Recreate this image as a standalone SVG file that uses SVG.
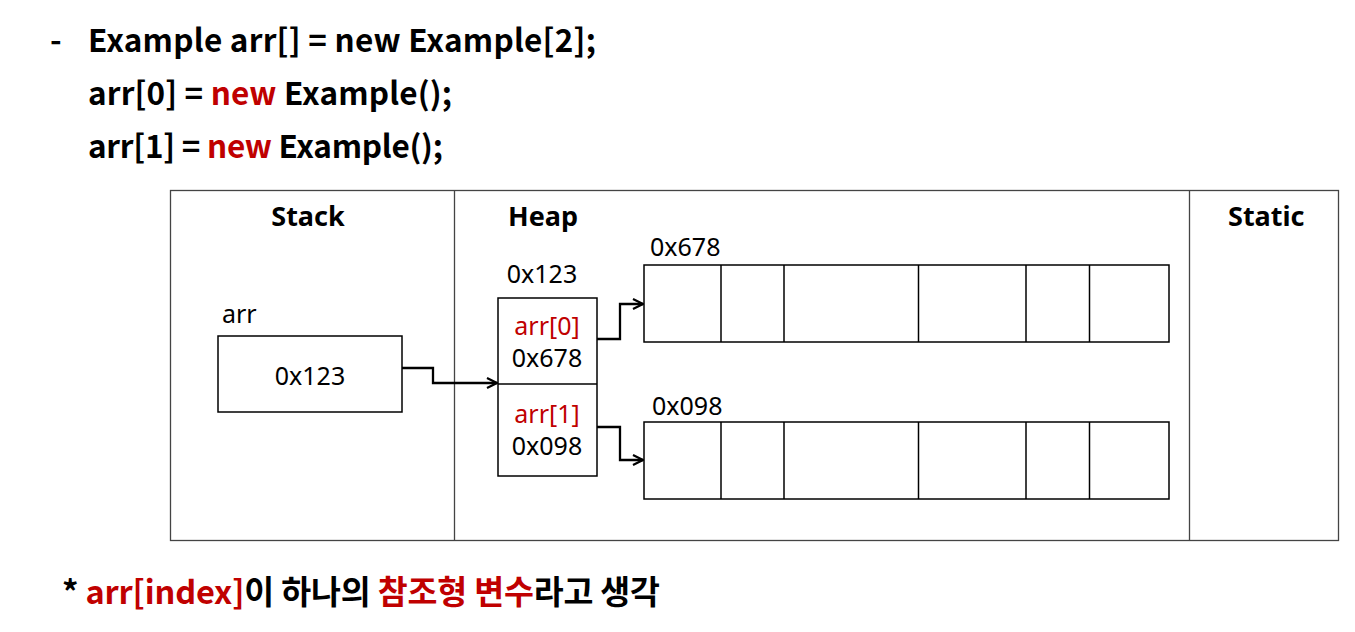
<svg xmlns="http://www.w3.org/2000/svg" width="1355" height="632" viewBox="0 0 1355 632">
<style>
.code{font-family:"Noto Sans CJK KR","Noto Sans",sans-serif;font-weight:700;font-size:31.5px;fill:#000}
.hd{font-family:"Noto Sans","Noto Sans CJK KR",sans-serif;font-weight:700;font-size:27px;fill:#000}
.lb{font-family:"Noto Sans","Noto Sans CJK KR",sans-serif;font-size:25px;fill:#000}
.red{fill:#C00000}
text.red{fill:#C00000}
.box{fill:#fff;stroke:#000;stroke-width:1.5}
.frame{fill:none;stroke:#444;stroke-width:1.3}
.conn{fill:none;stroke:#000;stroke-width:2.3}
</style>
<defs>
<marker id="arr" viewBox="0 0 12 12" refX="11" refY="6" markerWidth="12" markerHeight="12" markerUnits="userSpaceOnUse" orient="auto">
<path d="M1,1 L11,6 L1,11" fill="none" stroke="#000" stroke-width="2.2"/>
</marker>
</defs>
<rect width="1355" height="632" fill="#fff"/>
<g id="code">
<text class="code" x="50" y="52">-</text>
<text class="code" x="88" y="52" textLength="508">Example arr[] = new Example[2];</text>
<text class="code" x="88" y="105" textLength="364">arr[0] = <tspan class="red">new</tspan> Example();</text>
<text class="code" x="88" y="158" textLength="355">arr[1] = <tspan class="red">new</tspan> Example();</text>
</g>
<g id="memory-frame">
<rect class="frame" x="170.5" y="190.5" width="1168" height="350"/>
<line class="frame" x1="454.5" y1="190.5" x2="454.5" y2="540.5"/>
<line class="frame" x1="1189.5" y1="190.5" x2="1189.5" y2="540.5"/>
<text class="hd" x="308" y="226" text-anchor="middle">Stack</text>
<text class="hd" x="508" y="226">Heap</text>
<text class="hd" x="1228" y="226">Static</text>
</g>
<g id="stack-arr">
<text class="lb" x="222" y="323">arr</text>
<rect class="box" x="218" y="336" width="184" height="76"/>
<text class="lb" x="310" y="385" text-anchor="middle">0x123</text>
</g>
<g id="heap-array">
<text class="lb" x="542" y="283" text-anchor="middle">0x123</text>
<rect class="box" x="498" y="298" width="99" height="178"/>
<line class="box" x1="498" y1="384" x2="597" y2="384"/>
<text class="lb red" x="547" y="335" text-anchor="middle">arr[0]</text>
<text class="lb" x="547" y="367" text-anchor="middle">0x678</text>
<text class="lb red" x="547" y="423" text-anchor="middle">arr[1]</text>
<text class="lb" x="547" y="455" text-anchor="middle">0x098</text>
</g>
<g id="obj-0x678">
<text class="lb" x="650" y="256">0x678</text>
<rect class="box" x="644" y="265" width="525" height="77"/>
<line class="box" x1="721" y1="265" x2="721" y2="342"/>
<line class="box" x1="784" y1="265" x2="784" y2="342"/>
<line class="box" x1="918.5" y1="265" x2="918.5" y2="342"/>
<line class="box" x1="1026" y1="265" x2="1026" y2="342"/>
<line class="box" x1="1089.5" y1="265" x2="1089.5" y2="342"/>
</g>
<g id="obj-0x098">
<text class="lb" x="652" y="415">0x098</text>
<rect class="box" x="644" y="422" width="525" height="77"/>
<line class="box" x1="721" y1="422" x2="721" y2="499"/>
<line class="box" x1="784" y1="422" x2="784" y2="499"/>
<line class="box" x1="918.5" y1="422" x2="918.5" y2="499"/>
<line class="box" x1="1026" y1="422" x2="1026" y2="499"/>
<line class="box" x1="1089.5" y1="422" x2="1089.5" y2="499"/>
</g>
<g id="connectors">
<path class="conn" d="M402,368 H433 V383 H497" marker-end="url(#arr)"/>
<path class="conn" d="M597,339 H620 V304 H643" marker-end="url(#arr)"/>
<path class="conn" d="M597,427 H620 V460 H643" marker-end="url(#arr)"/>
</g>
<g id="note">
<text class="code" x="62" y="604" style="font-size:32.5px" textLength="598">* <tspan class="red">arr[index]</tspan>이 하나의 <tspan class="red">참조형 변수</tspan>라고 생각</text>
</g>
</svg>
